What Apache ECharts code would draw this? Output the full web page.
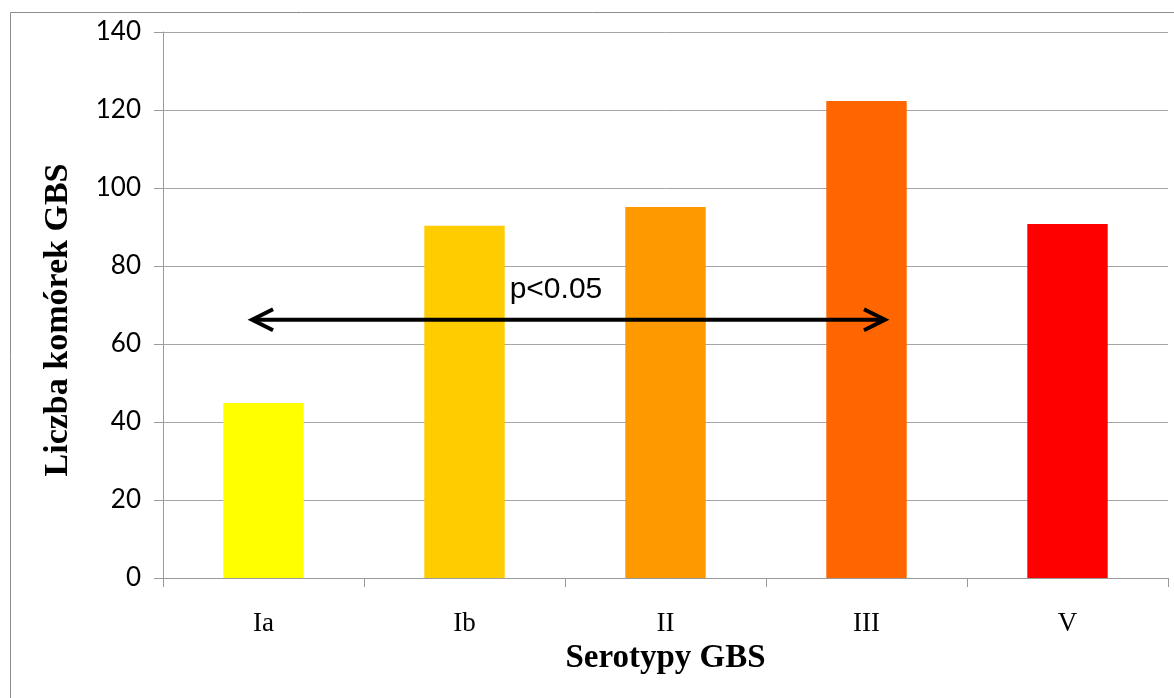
<!DOCTYPE html>
<html>
<head>
<meta charset="utf-8">
<script src="https://cdn.jsdelivr.net/npm/echarts@6/dist/echarts.min.js"></script>
<style>
  html, body { margin: 0; padding: 0; background: #fff; }
  #chart { width: 1174px; height: 698px; }
</style>
</head>
<body>
<div id="chart"></div>
<script>
// Serotypes and cell counts
const categories = ['Ia', 'Ib', 'II', 'III', 'V'];
const cellCounts = [44.9, 90.3, 95.1, 122.3, 90.8];
const barColors = ['#FFFF00', '#FFCC00', '#FF9900', '#FF6600', '#FF0000'];
const yTicks = { min: 0, max: 140, interval: 20 };
const xTitle = 'Serotypy GBS';
const yTitle = 'Liczba komórek GBS';

// Significance bracket: from Ia to III (positions in category units), at level 66
const sigArrow = [[0.443, 3.592, 66.2]];
const sigLabel = 'p<0.05';
const sigLabelPos = [1.955, 70];

const chart = echarts.init(document.getElementById('chart'));

const gridBox = { left: 163, right: 6, top: 32, bottom: 120 };

chart.setOption({
  animation: false,
  backgroundColor: '#fff',
  graphic: [{
    type: 'rect',
    shape: { x: 10.5, y: 12.5, width: 1300, height: 800 },
    style: { fill: 'none', stroke: '#8c8c8c', lineWidth: 1 },
    silent: true,
    z: -1
  }, {
    type: 'text',
    x: 58,
    y: 320,
    rotation: Math.PI / 2,
    silent: true,
    style: {
      text: yTitle,
      fill: '#000',
      font: 'bold 34px "Liberation Serif", "DejaVu Serif", serif',
      align: 'center',
      verticalAlign: 'middle'
    }
  }],
  grid: gridBox,
  xAxis: [{
    type: 'category',
    data: categories,
    boundaryGap: true,
    axisLine: { show: true, lineStyle: { color: '#9a9a9a', width: 1 } },
    axisTick: { show: true, alignWithLabel: false, length: 9, lineStyle: { color: '#9a9a9a' } },
    axisLabel: {
      margin: 32,
      fontFamily: '"Liberation Serif", "DejaVu Serif", serif',
      fontSize: 27,
      color: '#000'
    },
    name: xTitle,
    nameLocation: 'middle',
    nameGap: 62,
    nameTextStyle: {
      fontFamily: '"Liberation Serif", "DejaVu Serif", serif',
      fontWeight: 'bold',
      fontSize: 33,
      color: '#000'
    }
  }, {
    type: 'value',
    min: 0,
    max: 5,
    show: false
  }],
  yAxis: {
    type: 'value',
    min: yTicks.min,
    max: yTicks.max,
    interval: yTicks.interval,
    axisLine: { show: true, lineStyle: { color: '#9a9a9a', width: 1 } },
    axisTick: { show: true, length: 9, lineStyle: { color: '#9a9a9a' } },
    splitLine: { show: true, lineStyle: { color: '#a6a6a6', width: 1 } },
    axisLabel: {
      margin: 22,
      fontFamily: 'Lato, "Open Sans", sans-serif',
      fontSize: 26,
      color: '#000'
    }
  },
  series: [{
    type: 'bar',
    xAxisIndex: 0,
    barWidth: '40%',
    data: cellCounts.map((v, i) => ({ value: v, itemStyle: { color: barColors[i] } })),
    silent: true
  }, {
    type: 'custom',
    xAxisIndex: 1,
    yAxisIndex: 0,
    data: sigArrow,
    silent: true,
    z: 5,
    renderItem: function (params, api) {
      const p1 = api.coord([api.value(0), api.value(2)]);
      const p2 = api.coord([api.value(1), api.value(2)]);
      const lp = api.coord(sigLabelPos);
      const head = 21, half = 10.5;
      const stroke = { stroke: '#000', lineWidth: 4, fill: 'none', lineJoin: 'miter', lineCap: 'butt' };
      return {
        type: 'group',
        children: [{
          type: 'line',
          shape: { x1: p1[0] + 2, y1: p1[1], x2: p2[0] - 2, y2: p2[1] },
          style: stroke
        }, {
          type: 'polyline',
          shape: { points: [[p1[0] + head, p1[1] - half], [p1[0], p1[1]], [p1[0] + head, p1[1] + half]] },
          style: stroke
        }, {
          type: 'polyline',
          shape: { points: [[p2[0] - head, p2[1] - half], [p2[0], p2[1]], [p2[0] - head, p2[1] + half]] },
          style: stroke
        }, {
          type: 'text',
          style: {
            x: lp[0], y: lp[1],
            text: sigLabel,
            fill: '#000',
            font: '30px "Liberation Sans", Arial, sans-serif',
            textAlign: 'center',
            textVerticalAlign: 'bottom'
          }
        }]
      };
    }
  }]
});
</script>
</body>
</html>
